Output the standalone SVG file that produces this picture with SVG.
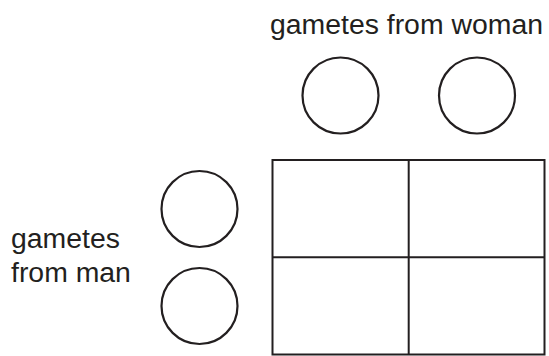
<svg xmlns="http://www.w3.org/2000/svg" width="549" height="356" viewBox="0 0 549 356">
<style>
.c{fill:none;stroke:#231f20;stroke-width:2.2}
.g{fill:none;stroke:#231f20;stroke-width:2}
text{font-family:"Liberation Sans",Arial,sans-serif;font-size:28.4px;fill:#231f20}
</style>
<rect width="549" height="356" fill="#fff"/>
<g id="label-woman"><text x="270" y="34">gametes from woman</text></g>
<g id="label-man"><text x="11" y="248">gametes</text><text x="11" y="282">from man</text></g>
<g id="woman-gamete-1"><circle class="c" cx="340.5" cy="95.5" r="38"/></g>
<g id="woman-gamete-2"><circle class="c" cx="477" cy="95.5" r="38"/></g>
<g id="man-gamete-1"><circle class="c" cx="199.5" cy="209" r="38"/></g>
<g id="man-gamete-2"><circle class="c" cx="199.5" cy="306" r="38"/></g>
<g id="punnett-grid">
<rect class="g" x="272.5" y="160" width="272" height="194.5"/>
<line class="g" x1="408.7" y1="160" x2="408.7" y2="354.5"/>
<line class="g" x1="272.5" y1="257.3" x2="544.5" y2="257.3"/>
</g>
</svg>
